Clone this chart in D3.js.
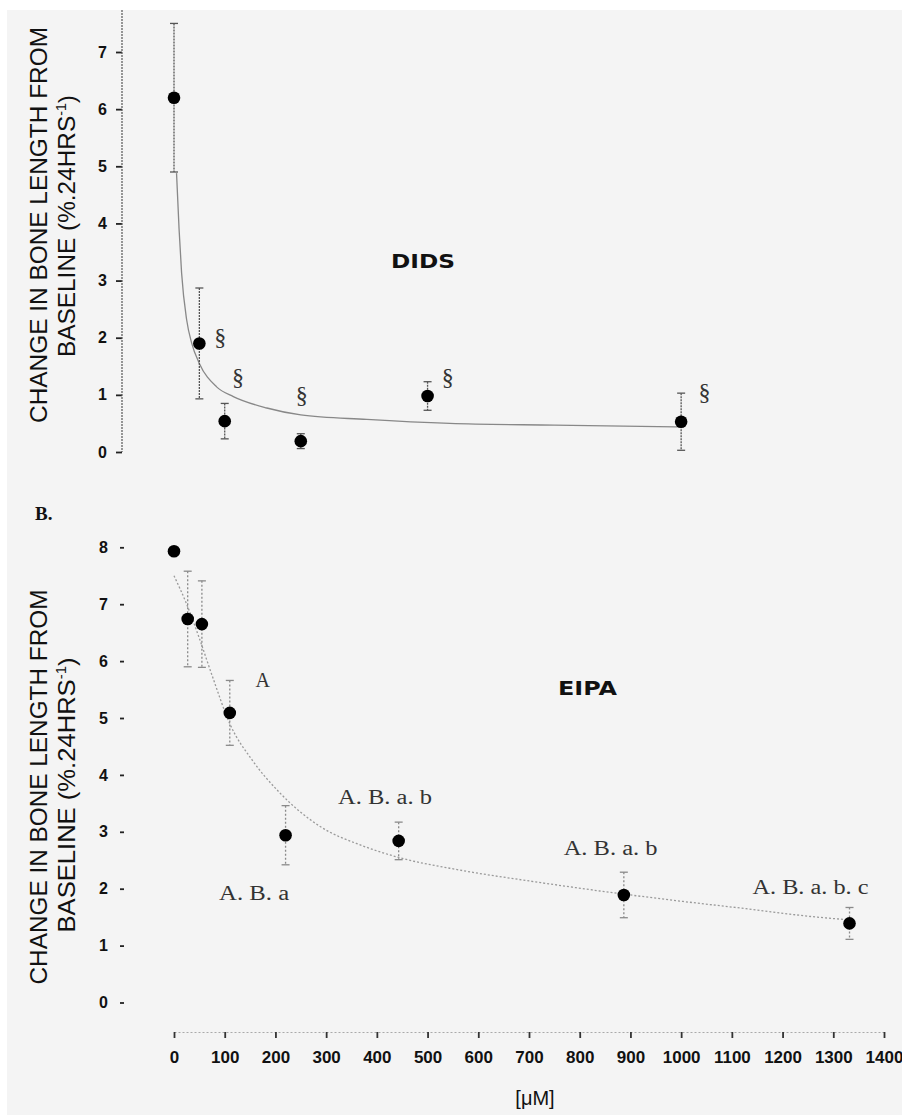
<!DOCTYPE html>
<html>
<head>
<meta charset="utf-8">
<script src="https://cdn.jsdelivr.net/npm/d3@7"></script>
<style>
html,body{margin:0;padding:0;background:#fff;}
svg{display:block;}
</style>
</head>
<body>
<svg id="chart" width="902" height="1115"></svg>
<script>
// ---------- DATA ----------
const xTicks = [0,100,200,300,400,500,600,700,800,900,1000,1100,1200,1300,1400];
const didsYTicks = [0,1,2,3,4,5,6,7];
const eipaYTicks = [0,1,2,3,4,5,6,7,8];

const didsConc = [0, 50, 100, 250, 500, 1000];
const didsMean = [6.2, 1.9, 0.54, 0.19, 0.98, 0.53];
const didsSem  = [1.3, 0.97, 0.31, 0.13, 0.25, 0.5];
const didsCurveConc = [5, 10, 15, 25, 35, 50, 84, 117, 183, 250, 380, 544, 750, 1000];
const didsCurveVal  = [4.88, 3.9, 3.13, 2.31, 1.9, 1.55, 1.14, 0.97, 0.77, 0.65, 0.57, 0.5, 0.47, 0.44];
const didsMarkText = ["§","§","§","§","§"];
const didsMarkConc = [91, 126, 252, 540, 1046];
const didsMarkVal  = [2.01, 1.31, 1.0, 1.31, 1.05];

const eipaConc = [0, 27, 55, 110, 220, 443, 887, 1332];
const eipaMean = [7.93, 6.74, 6.65, 5.09, 2.94, 2.84, 1.89, 1.39];
const eipaSem  = [0, 0.84, 0.76, 0.57, 0.52, 0.33, 0.4, 0.28];
const eipaCurveConc = [0, 25, 50, 75, 110, 155, 207, 287, 370, 443, 562, 713, 865, 1000, 1117, 1269, 1335];
const eipaCurveVal  = [7.5, 7.0, 6.4, 5.75, 4.9, 4.25, 3.7, 3.1, 2.76, 2.55, 2.33, 2.12, 1.93, 1.78, 1.66, 1.5, 1.45];
const eipaNoteText = ["A", "A. B. a. b", "A. B. a", "A. B. a. b", "A. B. a. b. c"];
const eipaNoteConc = [175, 416, 158, 861, 1255];
const eipaNoteVal  = [5.67, 3.61, 1.92, 2.72, 2.03];
const eipaNoteLen  = [null, 94, 70, 94, 116];

const yTitle1 = "CHANGE IN BONE LENGTH FROM";
const yTitle2a = "BASELINE (%.24HRS";
const yTitle2sup = "-1";
const yTitle2b = ")";

// ---------- LAYOUT ----------
const svg = d3.select("#chart");
svg.append("rect").attr("x",7).attr("y",10).attr("width",895).attr("height",1105).attr("fill","#f4f4f4");

const x = d3.scaleLinear().domain([0,1400]).range([174,884]);
const yTop = d3.scaleLinear().domain([0,7.735]).range([452,10]);
const yBot = d3.scaleLinear().domain([0,8]).range([1002.5,547.3]);

const sans = "'Liberation Sans', Arial, sans-serif";
const serif = "'Liberation Serif', 'Times New Roman', serif";

// ---------- TOP PANEL (DIDS) ----------
const gTopAxis = svg.append("g").attr("transform","translate(122,0)")
  .call(d3.axisLeft(yTop).tickValues(didsYTicks).tickSize(6).tickSizeOuter(0).tickPadding(9));
gTopAxis.select(".domain").remove();
gTopAxis.selectAll(".tick line").attr("stroke","#222").attr("stroke-width",1.8);
gTopAxis.selectAll(".tick text").attr("font-family",sans).attr("font-weight",700).attr("font-size",16).attr("fill","#111");
svg.append("line").attr("x1",122).attr("x2",122).attr("y1",yTop(7.735)).attr("y2",yTop(0))
  .attr("stroke","#555").attr("stroke-width",1.2).attr("stroke-dasharray","2,1");

function yTitle(cx1, cx2, cy1, cy2, len1, len2){
  svg.append("text").attr("transform",`translate(${cx1},${cy1}) rotate(-90)`)
    .attr("text-anchor","middle").attr("dy","0.36em")
    .attr("font-family",sans).attr("font-size",24).attr("fill","#111")
    .attr("textLength",len1).attr("lengthAdjust","spacingAndGlyphs")
    .text(yTitle1);
  const t2 = svg.append("text").attr("transform",`translate(${cx2},${cy2}) rotate(-90)`)
    .attr("text-anchor","middle").attr("dy","0.36em")
    .attr("font-family",sans).attr("font-size",24).attr("fill","#111")
    .attr("textLength",len2).attr("lengthAdjust","spacingAndGlyphs");
  t2.append("tspan").text(yTitle2a);
  t2.append("tspan").attr("font-size",14).attr("dy",-9).text(yTitle2sup);
  t2.append("tspan").attr("dy",9).text(yTitle2b);
}
yTitle(38, 66, 225, 226, 396, 262);

const line = d3.line().curve(d3.curveMonotoneX);
svg.append("path")
  .attr("d", line(didsCurveConc.map((c,i)=>[x(c), yTop(didsCurveVal[i])])))
  .attr("fill","none").attr("stroke","#888").attr("stroke-width",1.3);

function errBars(conc, mean, sem, y, color, dash){
  const g = svg.append("g");
  conc.forEach((c,i)=>{
    if(!sem[i]) return;
    const cx = x(c), y1 = y(mean[i]+sem[i]), y2 = y(mean[i]-sem[i]);
    g.append("line").attr("x1",cx).attr("x2",cx).attr("y1",y1).attr("y2",y2)
      .attr("stroke",color).attr("stroke-width",1.3).attr("stroke-dasharray",dash);
    [y1,y2].forEach(yy=>g.append("line").attr("x1",cx-4).attr("x2",cx+4).attr("y1",yy).attr("y2",yy)
      .attr("stroke",color).attr("stroke-width",1.3));
  });
}
errBars(didsConc, didsMean, didsSem, yTop, "#555", "2,1");
svg.append("g").selectAll("circle").data(didsConc).join("circle")
  .attr("cx",(d)=>x(d)).attr("cy",(d,i)=>yTop(didsMean[i])).attr("r",6.3).attr("fill","#000");

svg.append("g").selectAll("text").data(didsMarkText).join("text")
  .attr("x",(d,i)=>x(didsMarkConc[i])).attr("y",(d,i)=>yTop(didsMarkVal[i]))
  .attr("text-anchor","middle").attr("dominant-baseline","central")
  .attr("font-family",serif).attr("font-size",24).attr("fill","#333")
  .text(d=>d);

svg.append("text").attr("x",391).attr("y",268).attr("font-family","'DejaVu Sans', Verdana, sans-serif")
  .attr("font-weight","bold").attr("font-size",19).attr("fill","#111")
  .attr("textLength",64).attr("lengthAdjust","spacingAndGlyphs").text("DIDS");

// ---------- BOTTOM PANEL (EIPA) ----------
svg.append("text").attr("x",35).attr("y",520).attr("font-family",serif).attr("font-weight","bold")
  .attr("font-size",19).attr("fill","#111").text("B.");

const gBotAxis = svg.append("g").attr("transform","translate(124,0)")
  .call(d3.axisLeft(yBot).tickValues(eipaYTicks).tickSize(4).tickSizeOuter(0).tickPadding(12));
gBotAxis.select(".domain").remove();
gBotAxis.selectAll(".tick line").attr("stroke","#222").attr("stroke-width",1.8);
gBotAxis.selectAll(".tick text").attr("font-family",sans).attr("font-weight",700).attr("font-size",16).attr("fill","#111");

yTitle(38, 66, 787, 795, 395, 275);

svg.append("path")
  .attr("d", line(eipaCurveConc.map((c,i)=>[x(c), yBot(eipaCurveVal[i])])))
  .attr("fill","none").attr("stroke","#9a9a9a").attr("stroke-width",1.3).attr("stroke-dasharray","2,2");
errBars(eipaConc, eipaMean, eipaSem, yBot, "#8a8a8a", "2,2");
svg.append("g").selectAll("circle").data(eipaConc).join("circle")
  .attr("cx",(d)=>x(d)).attr("cy",(d,i)=>yBot(eipaMean[i])).attr("r",6.3).attr("fill","#000");

svg.append("g").selectAll("text").data(eipaNoteText).join("text")
  .attr("x",(d,i)=>x(eipaNoteConc[i])).attr("y",(d,i)=>yBot(eipaNoteVal[i]))
  .attr("text-anchor","middle").attr("dy","0.34em")
  .attr("font-family",serif).attr("font-size",20).attr("fill","#333")
  .each(function(d,i){ if(eipaNoteLen[i]) d3.select(this).attr("textLength",eipaNoteLen[i]).attr("lengthAdjust","spacingAndGlyphs"); })
  .text(d=>d);

svg.append("text").attr("x",558).attr("y",695).attr("font-family","'DejaVu Sans', Verdana, sans-serif")
  .attr("font-weight","bold").attr("font-size",19).attr("fill","#111")
  .attr("textLength",59).attr("lengthAdjust","spacingAndGlyphs").text("EIPA");

// X axis
const gX = svg.append("g").attr("transform","translate(0,1032)")
  .call(d3.axisBottom(x).tickValues(xTicks).tickSize(6).tickSizeOuter(0).tickPadding(13).tickFormat(d3.format("d")));
gX.select(".domain").attr("stroke","#aaa").attr("stroke-width",1.2).attr("stroke-dasharray","2,2");
gX.selectAll(".tick line").attr("stroke","#333").attr("stroke-width",1.8);
gX.selectAll(".tick text").attr("font-family",sans).attr("font-weight",700).attr("font-size",17).attr("fill","#111");

svg.append("text").attr("x",535).attr("y",1105).attr("text-anchor","middle")
  .attr("font-family",sans).attr("font-size",20).attr("fill","#111").text("[μM]");
</script>
</body>
</html>
